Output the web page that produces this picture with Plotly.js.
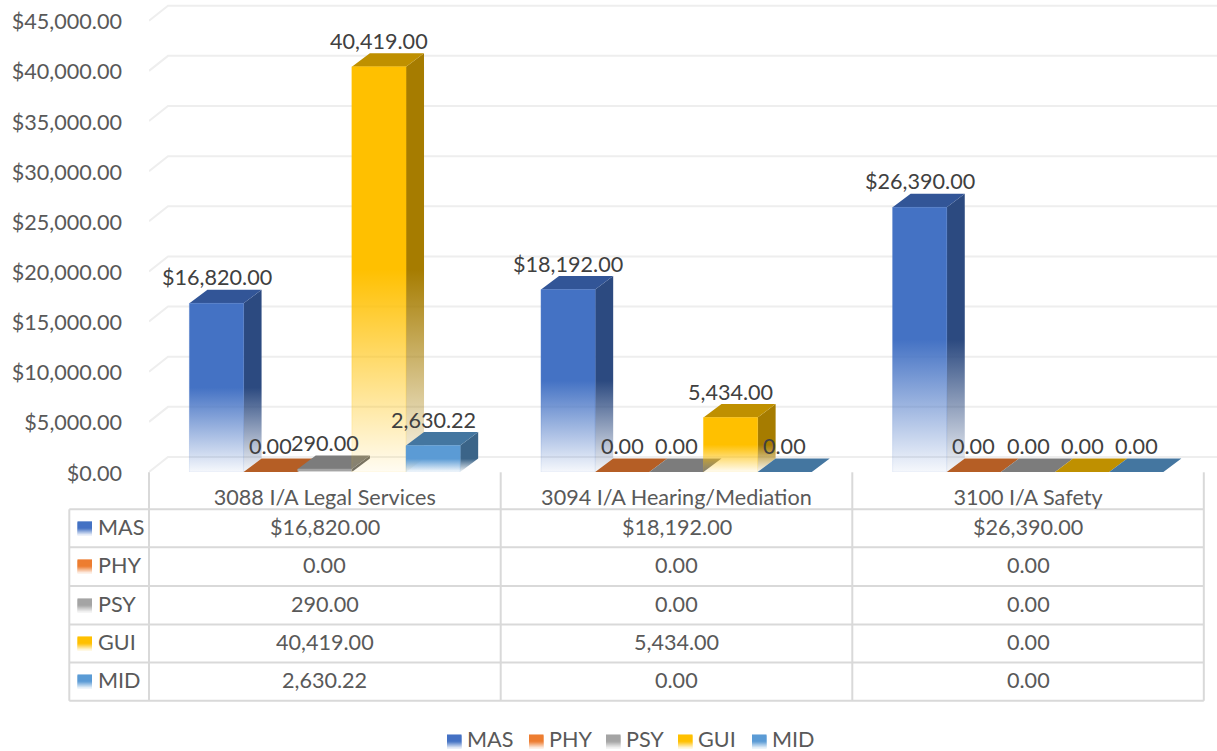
<!DOCTYPE html>
<html>
<head>
<meta charset="utf-8">
<script src="https://cdn.plot.ly/plotly-3.0.1.min.js"></script>
<style>html,body{margin:0;padding:0;background:#fff;overflow:hidden}#chart{width:1217px;height:751px}</style>
</head>
<body>
<div id="chart"></div>
<script>
const categories = ['3088 I/A Legal Services', '3094 I/A Hearing/Mediation', '3100 I/A Safety'];
const seriesNames = ['MAS', 'PHY', 'PSY', 'GUI', 'MID'];
const MAS = [16820, 18192, 26390];
const PHY = [0, 0, 0];
const PSY = [290, 0, 0];
const GUI = [40419, 5434, 0];
const MID = [2630.22, 0, 0];
const seriesValues = [MAS, PHY, PSY, GUI, MID];
const tickValues = [0, 5000, 10000, 15000, 20000, 25000, 30000, 35000, 40000, 45000];
const frontColors = ['#4472C4', '#ED7D31', '#A5A5A5', '#FFC000', '#5B9BD5'];
const topColors = ['#325597', '#B55E25', '#7C7C7C', '#BF9000', '#4476A0'];
const sideColors = ['#2C4A80', '#9A5120', '#6B6B6B', '#A67C00', '#3B6488'];

// page geometry (px)
const W = 1217, H = 751, plotL = 149, baseY = 471.7;
const catPx = 351.6, unitPx = 0.010022;
const bargap = 0.23, barW = (1 - bargap) / 5;
const barDX = 18 / catPx, barDY = 13.5 / unitPx;
const wallDX = 19 / catPx, wallDY = 15 / unitPx;
const xMin = -0.5, xMax = xMin + (W - plotL) / catPx, yMax = baseY / unitPx;
const FONT = 'Lato, "Open Sans", sans-serif', FS = 21.6;
const GREY = '#595959', DARK = '#404040', LINE = '#d9d9d9';

const fx = px => (px - plotL) / (W - plotL);
const fy = py => 1 - py / baseY;
const money = (v, s) => (s === 0 ? '$' : '') + v.toLocaleString('en-US', {minimumFractionDigits: 2, maximumFractionDigits: 2});
const rgbaOf = (c, a) => {
  const n = parseInt(c.slice(1), 16);
  return `rgba(${n >> 16},${(n >> 8) & 255},${n & 255},${a})`;
};

const traces = [];
// back wall gridlines
const gx = [], gy = [];
tickValues.forEach(v => {
  gx.push(xMin, xMin + wallDX, xMax, null);
  gy.push(v, v + wallDY, v + wallDY, null);
});
traces.push({type: 'scatter', mode: 'lines', x: gx, y: gy, line: {color: '#eeeeee', width: 2}, hoverinfo: 'skip', showlegend: false, zorder: 0});

seriesValues.forEach((vals, s) => {
  const z = 2 * s + 1;
  // top faces
  const tx = [], ty = [];
  vals.forEach((v, c) => {
    const l = c + (s - 2.5) * barW, r = l + barW;
    tx.push(l, r, r + barDX, l + barDX, l, null);
    ty.push(v, v, v + barDY, v + barDY, v, null);
    if (v > 0) {
      traces.push({type: 'scatter', mode: 'none', x: [r, r + barDX, r + barDX, r, r], y: [v, v + barDY, barDY, 0, v],
        fill: 'toself', fillgradient: {type: 'vertical', start: v, stop: 0,
          colorscale: [[0, sideColors[s]], [0.5, sideColors[s]], [1, rgbaOf(sideColors[s], 0.05)]]},
        hoverinfo: 'skip', showlegend: false, zorder: z});
    }
  });
  traces.push({type: 'scatter', mode: 'none', x: tx, y: ty, fill: 'toself', fillcolor: topColors[s], hoverinfo: 'skip', showlegend: false, zorder: z});
  // front faces
  traces.push({type: 'bar', name: seriesNames[s], x: [0, 1, 2], y: vals, marker: {color: frontColors[s], line: {width: 1, color: frontColors[s]}}, showlegend: false, zorder: z + 1});
});

const annotations = [], shapes = [];
const txt = (text, px, py, xanchor = 'center', color = GREY) => annotations.push({text, xref: 'paper', yref: 'paper', x: fx(px), y: fy(py), xanchor, yanchor: 'middle', showarrow: false, font: {family: FONT, size: FS, color}, borderpad: 0});
const seg = (x0, y0, x1, y1) => shapes.push({type: 'line', xref: 'paper', yref: 'paper', x0: fx(x0), y0: fy(y0), x1: fx(x1), y1: fy(y1), line: {color: LINE, width: 2}, layer: 'below'});
const key = (px, py, s) => {
  const n = parseInt(frontColors[s].slice(1), 16), rgb = [n >> 16, (n >> 8) & 255, n & 255];
  for (let i = 0; i < 14; i++) {
    const t = (i + 0.5) / 14, a = t < 0.5 ? 1 : 1 - (t - 0.5) / 0.5 * 0.95;
    const col = rgb.map(c => Math.round(c * a + 255 * (1 - a)));
    // each slice runs one pixel under the next so no seam shows
    shapes.push({type: 'rect', xref: 'paper', yref: 'paper', x0: fx(px), x1: fx(px + 14.5), y0: fy(py + i), y1: fy(py + i + (i < 13 ? 2 : 1)), fillcolor: `rgb(${col})`, line: {width: 0}, layer: 'above'});
  }
};

// data labels
seriesValues.forEach((vals, s) => vals.forEach((v, c) => {
  annotations.push({text: money(v, s), xref: 'x', yref: 'y', x: c + (s - 2) * barW, y: v, yshift: 26, xanchor: 'center', yanchor: 'middle', showarrow: false, font: {family: FONT, size: FS, color: DARK}});
}));

// data table
const rowLines = [509, 547, 585.7, 624, 662, 700.3];
const colLines = [149, 500.7, 852.3, 1203.8];
rowLines.forEach(y => seg(69.3, y, 1203.8, y));
seg(69.3, 509, 69.3, 700.3);
colLines.forEach(x => seg(x, 472, x, 700.3));
const rowCenters = [527, 565, 604, 642, 680];
seriesNames.forEach((name, s) => {
  key(77.5, rowCenters[s] - 6, s);
  txt(name, 96.5, rowCenters[s], 'left');
  seriesValues[s].forEach((v, c) => txt(money(v, s), (colLines[c] + colLines[c + 1]) / 2, rowCenters[s]));
});

// legend
const legendKeyX = [447, 529, 606, 678, 752];
seriesNames.forEach((name, s) => {
  key(legendKeyX[s], 734, s);
  txt(name, legendKeyX[s] + 19, 739, 'left');
});

const layout = {
  width: W, height: H, paper_bgcolor: '#fff', plot_bgcolor: '#fff', showlegend: false,
  margin: {l: plotL, r: 0, t: 0, b: H - baseY, pad: 0},
  barmode: 'group', bargap: bargap, bargroupgap: 0,
  font: {family: FONT, size: FS, color: GREY},
  xaxis: {type: 'linear', range: [xMin, xMax], tickmode: 'array', tickvals: [0, 1, 2], ticktext: categories,
    showgrid: false, zeroline: false, showline: false, ticks: '', ticklabelstandoff: 10, tickfont: {family: FONT, size: FS, color: GREY}, automargin: false},
  yaxis: {type: 'linear', range: [0, yMax], tickmode: 'array', tickvals: tickValues, tickformat: '$,.2f',
    showgrid: false, zeroline: false, showline: false, ticks: '', ticklabelstandoff: 26, ticklabelshift: 1, tickfont: {family: FONT, size: FS, color: GREY}, automargin: false},
  annotations, shapes
};

Plotly.newPlot('chart', traces, layout, {displayModeBar: false, responsive: false}).then(gd => {
  // vertical fade on the library's own bar paths
  const defs = gd.querySelector('svg.main-svg defs');
  const NS = 'http://www.w3.org/2000/svg';
  const addGradient = (id, color, stops) => {
    const g = document.createElementNS(NS, 'linearGradient');
    g.setAttribute('id', id);
    g.setAttribute('x1', '0'); g.setAttribute('y1', '0'); g.setAttribute('x2', '0'); g.setAttribute('y2', '1');
    stops.forEach(([o, a]) => {
      const st = document.createElementNS(NS, 'stop');
      st.setAttribute('offset', o); st.setAttribute('stop-color', color); st.setAttribute('stop-opacity', a);
      g.appendChild(st);
    });
    defs.appendChild(g);
  };
  seriesNames.forEach((name, s) => {
    addGradient('barfade' + s, frontColors[s], [[0, 1], [0.5, 1], [1, 0.05]]);
    addGradient('baredge' + s, frontColors[s], [[0, 0.45], [0.5, 0.45], [1, 0.1]]);
  });
  gd.querySelectorAll('.trace.bars').forEach(tr => {
    const d = tr.__data__;
    const s = seriesNames.indexOf(d[0].trace.name);
    tr.querySelectorAll('.point path').forEach(p => {
      p.style.fill = `url(#barfade${s})`;
      p.style.stroke = `url(#baredge${s})`;
    });
  });
});
</script>
</body>
</html>
